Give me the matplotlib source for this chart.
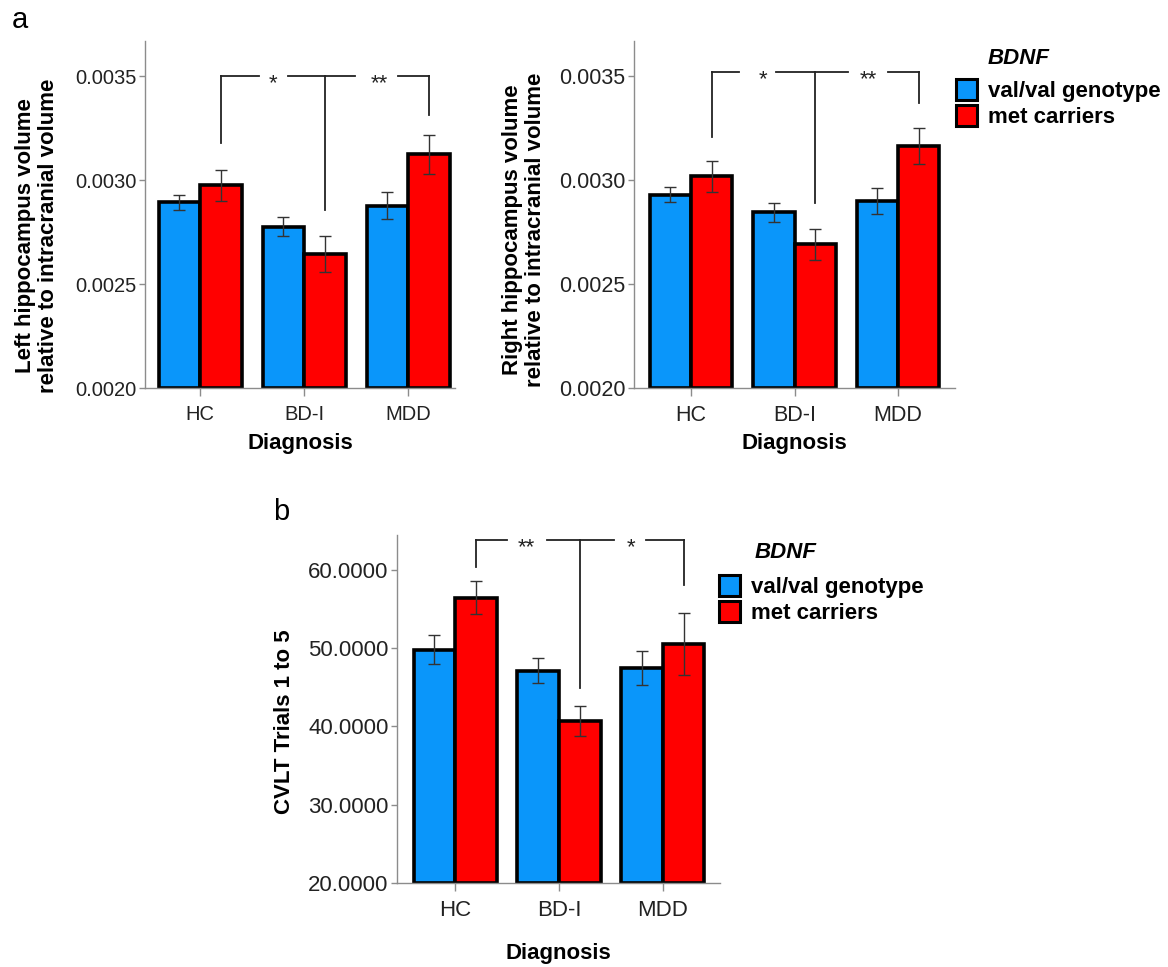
import numpy as np
import matplotlib
matplotlib.use('Agg')
import matplotlib.pyplot as plt
from matplotlib.patches import Patch

plt.rcParams['font.family'] = ['Liberation Sans', 'DejaVu Sans']

# data
groups = ['HC', 'BD-I', 'MDD']
series = ['val/val genotype', 'met carriers']

left_val = [0.002893, 0.002776, 0.002877]
left_val_err = [0.000034, 0.000045, 0.000064]
left_met = [0.002976, 0.002644, 0.003125]
left_met_err = [0.000074, 0.000086, 0.000095]

right_val = [0.002931, 0.002845, 0.002900]
right_val_err = [0.000036, 0.000047, 0.000063]
right_met = [0.003019, 0.002691, 0.003165]
right_met_err = [0.000075, 0.000075, 0.000088]

cvlt_val = [49.8, 47.1, 47.45]
cvlt_val_err = [1.8, 1.6, 2.2]
cvlt_met = [56.4, 40.65, 50.5]
cvlt_met_err = [2.1, 1.9, 3.95]

# significance brackets: bar height, left/mid/right leg ends, stars
left_sig = [0.00350, 0.003178, 0.002856, 0.003313, '*', '**']
right_sig = [0.00352, 0.003208, 0.002888, 0.003372, '*', '**']
cvlt_sig = [63.8, 60.3, 44.9, 58.0, '**', '*']

BLUE = '#0A96FA'
RED = '#FF0000'
GREY = '#8c8c8c'
W, H = 1168, 967


def panel(rect, val, val_err, met, met_err, ylim, yticks, ylabel, xlim,
          sig, gaps, star_x, tick_fs, ylab_xy, xlab_y):
    ax = fig.add_axes(rect)
    x = np.arange(len(groups))
    ymin = ylim[0]
    ekw = dict(ecolor='#333333', elinewidth=1.0, capsize=4, capthick=1.0)
    ax.bar(x - 0.2, np.array(val) - ymin, 0.4, bottom=ymin, color=BLUE,
           edgecolor='black', linewidth=2.6, yerr=val_err, error_kw=ekw)
    ax.bar(x + 0.2, np.array(met) - ymin, 0.4, bottom=ymin, color=RED,
           edgecolor='black', linewidth=2.6, yerr=met_err, error_kw=ekw)
    ax.set_xlim(*xlim)
    ax.set_ylim(*ylim)
    ax.set_yticks(yticks)
    ax.yaxis.set_major_formatter(matplotlib.ticker.FormatStrFormatter('%.4f'))
    ax.set_xticks(x)
    ax.set_xticklabels(groups)
    for s in ['top', 'right']:
        ax.spines[s].set_visible(False)
    for s in ['left', 'bottom']:
        ax.spines[s].set_color(GREY)
        ax.spines[s].set_linewidth(1.0)
    ax.tick_params(axis='both', colors=GREY, labelcolor='#222222',
                   labelsize=tick_fs, length=4, width=1.0)
    ax.tick_params(axis='x', length=6, pad=6)
    ax.tick_params(axis='y', pad=2)

    ax.set_ylabel(ylabel, fontsize=16, fontweight='bold', linespacing=1.1)
    ax.yaxis.set_label_coords(*ylab_xy)
    ax.set_xlabel('Diagnosis', fontsize=16, fontweight='bold')
    ax.xaxis.set_label_coords(0.5, xlab_y)

    # bracket
    yh, yl, ym, yr, s1, s2 = sig
    lc = '#222222'
    segs = [(0.2, gaps[0]), (gaps[1], gaps[2]), (gaps[3], 2.2)]
    for a, b in segs:
        ax.plot([a, b], [yh, yh], color=lc, lw=1.3, clip_on=False)
    ax.plot([0.2, 0.2], [yh, yl], color=lc, lw=1.3, clip_on=False)
    ax.plot([1.2, 1.2], [yh, ym], color=lc, lw=1.3, clip_on=False)
    ax.plot([2.2, 2.2], [yh, yr], color=lc, lw=1.3, clip_on=False)
    for sx, st in zip(star_x, [s1, s2]):
        ax.annotate(st, (sx, yh), xytext=(0, -9.5), textcoords='offset points',
                    ha='center', va='baseline', fontsize=16, color=lc)
    return ax


fig = plt.figure(figsize=(W / 100, H / 100), dpi=100)

panel([145 / W, 1 - 388 / H, 310 / W, 347 / H],
      left_val, left_val_err, left_met, left_met_err,
      (0.0020, 0.00367), [0.0020, 0.0025, 0.0030, 0.0035],
      'Left hippocampus volume\nrelative to intracranial volume',
      (-0.53, 2.45), left_sig, [0.57, 0.84, 1.49, 1.90], [0.70, 1.72],
      14.5, (-0.278, 0.44), -0.13)

panel([634 / W, 1 - 388 / H, 321 / W, 347 / H],
      right_val, right_val_err, right_met, right_met_err,
      (0.0020, 0.00367), [0.0020, 0.0025, 0.0030, 0.0035],
      'Right hippocampus volume\nrelative to intracranial volume',
      (-0.55, 2.55), right_sig, [0.46, 0.82, 1.52, 1.90], [0.70, 1.71],
      15.5, (-0.275, 0.455), -0.13)

panel([397 / W, 1 - 883.3 / H, 323 / W, 348.3 / H],
      cvlt_val, cvlt_val_err, cvlt_met, cvlt_met_err,
      (20, 64.4), [20, 30, 40, 50, 60],
      'CVLT Trials 1 to 5',
      (-0.56, 2.55), cvlt_sig, [0.50, 0.88, 1.53, 1.84], [0.69, 1.69],
      16, (-0.315, 0.463), -0.17)

handles = [Patch(facecolor=BLUE, edgecolor='black', linewidth=2.2),
           Patch(facecolor=RED, edgecolor='black', linewidth=2.2)]
for px, py, tx, ty in [(956, 79, 988, 58), (719, 575, 755, 553)]:
    fig.legend(handles, series, loc='upper left',
               bbox_to_anchor=(px / W, 1 - py / H), frameon=False,
               borderpad=0, borderaxespad=0, handlelength=0.95,
               handleheight=1.1, handletextpad=0.5, labelspacing=0.12,
               prop=dict(size=16, weight='bold'))
    fig.text(tx / W, 1 - ty / H, 'BDNF', fontsize=16, fontweight='bold',
             fontstyle='italic', ha='left', va='center')

fig.text(12 / W, 1 - 28 / H, 'a', fontsize=21, va='baseline')
fig.text(273 / W, 1 - 520 / H, 'b', fontsize=21, va='baseline')

fig.savefig('out.png', dpi=100)
